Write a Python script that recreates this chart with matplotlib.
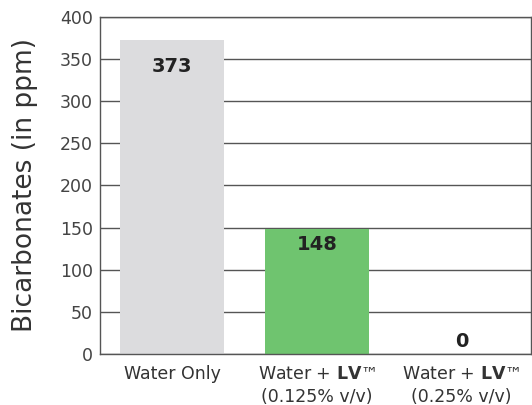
import matplotlib.pyplot as plt

# bar data
categories = ["Water Only",
              "Water + $\\mathbf{LV}$™\n(0.125% v/v)",
              "Water + $\\mathbf{LV}$™\n(0.25% v/v)"]
values = [373, 148, 0]
value_labels = ["373", "148", "0"]
colors = ["#dcdcde", "#6fc46f", "#dcdcde"]
yticks = [0, 50, 100, 150, 200, 250, 300, 350, 400]

plt.rcParams["font.family"] = "DejaVu Sans"
plt.rcParams["mathtext.fontset"] = "dejavusans"

fig = plt.figure(figsize=(5.32, 4.05), dpi=100)
ax = fig.add_axes([0.188, 0.126, 0.810, 0.832])

x = range(len(categories))
ax.bar(x, values, width=0.72, color=colors, zorder=2)

# numbers inside the bars
offsets = [-27, -15, 12]
for xi, v, lab, off in zip(x, values, value_labels, offsets):
    ax.annotate(lab, (xi, v), xytext=(0, off), textcoords="offset pixels",
                ha="center", va="center", fontsize=14, fontweight="bold",
                color="#222222", zorder=3)

ax.set_xlim(-0.5, 2.48)
ax.set_ylim(0, 400)
ax.set_yticks(yticks)
ax.set_xticks(list(x))
ax.set_xticklabels(categories, fontsize=12.5, color="#333333", linespacing=1.35)
ax.tick_params(axis="y", labelsize=12.5, labelcolor="#444444", length=0, pad=5)
ax.tick_params(axis="x", length=0, pad=8)
ax.yaxis.grid(True, color="#555555", linewidth=1.0, zorder=1)
ax.set_axisbelow(True)
for s in ax.spines.values():
    s.set_color("#555555")
    s.set_linewidth(1.0)

ax.set_ylabel("Bicarbonates (in ppm)", fontsize=19, color="#333333", labelpad=16)

fig.savefig("out.png", dpi=100)
